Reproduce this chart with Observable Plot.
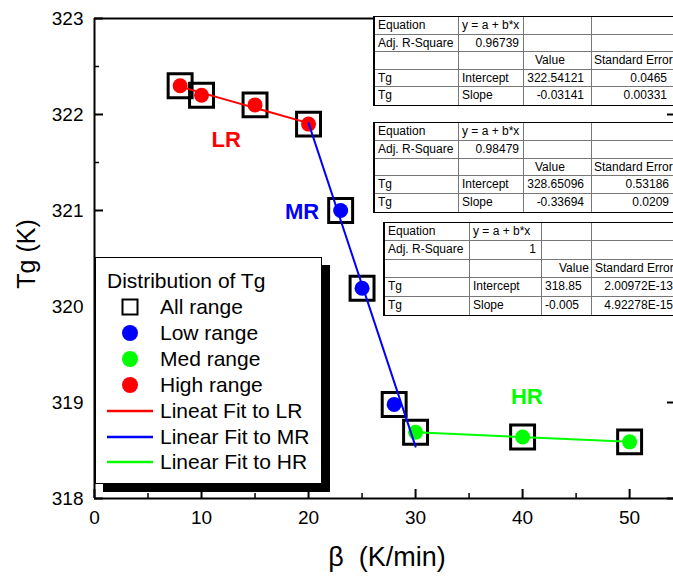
<!DOCTYPE html>
<html><head><meta charset="utf-8">
<script src="https://cdn.jsdelivr.net/npm/d3@7"></script>
<script src="https://cdn.jsdelivr.net/npm/@observablehq/plot@0.6"></script>
<style>
html,body{margin:0;padding:0;background:#fff;overflow:hidden}
#wrap{position:relative;width:673px;height:577px;overflow:hidden;font-family:Arial,"Liberation Sans",sans-serif;color:#000}
#wrap svg{display:block}
.tbl{position:absolute;display:grid;background:#fff;font-size:12px;border-top:1px solid #000;border-bottom:1px solid #000;border-left:2px solid #000;box-sizing:border-box}
.tbl div{border-right:1px solid #777;border-bottom:1px solid #777;box-sizing:border-box;white-space:nowrap;overflow:visible;padding:0 3px}
.tbl div.lastrow{border-bottom:none}
.legend{position:absolute;left:95px;top:257px;width:227px;height:227px;box-sizing:border-box;border:1px solid #000;background:#fff;box-shadow:8px 8px 0 #000;font-size:21px}
.legend .row{position:absolute;left:0;height:26px;line-height:26px;white-space:nowrap}
.legend svg{position:absolute;left:0;top:0}
.atitle{position:absolute;white-space:nowrap;line-height:1;transform:translate(-50%,-50%)}
</style></head>
<body><div id="wrap"></div>
<script>
// ---- data ----
const beta = [8, 10, 15, 20, 23, 25, 28, 30, 40, 50];
const tg = [322.30, 322.20, 322.10, 321.90, 321.00, 320.19, 318.98, 318.69, 318.64, 318.59];
const rangeOf = ["High range","High range","High range","High range","Low range","Low range","Low range","Med range","Med range","Med range"];
const fitLRbeta = [8, 20], fitLRtg = [322.29, 321.91];
const fitMRbeta = [20, 30], fitMRtg = [321.91, 318.54];
const fitHRbeta = [30, 50], fitHRtg = [318.69, 318.59];
const xTicks = [0, 10, 20, 30, 40, 50];
const xMinor = [5, 15, 25, 35, 45];
const yTicks = [318, 319, 320, 321, 322, 323];
const yMinor = [318.5, 319.5, 320.5, 321.5, 322.5];
const regionNames = ["LR", "MR", "HR"];
const regionX = [12.3, 19.4, 40.4];
const regionY = [321.73, 320.98, 319.06];
const xTitle = "\u03b2\u00a0 (K/min)";
const yTitle = "Tg (K)";
const legendTitle = "Distribution of Tg";
const legendLabels = ["All range","Low range","Med range","High range","Lineat Fit to LR","Linear Fit to MR","Linear Fit to HR"];
const tblEquation = ["y = a + b*x","y = a + b*x","y = a + b*x"];
const tblAdjR2 = ["0.96739","0.98479","1"];
const tblIntercept = ["322.54121","328.65096","318.85"];
const tblInterceptSE = ["0.0465","0.53186","2.00972E-13"];
const tblSlope = ["-0.03141","-0.33694","-0.005"];
const tblSlopeSE = ["0.00331","0.0209","4.92278E-15"];

// ---- styles ----
const colorOf = {"Low range":"#0000ff","Med range":"#00ff00","High range":"#ff0000"};
const regionColor = ["#ff0000","#0000ff","#00ff00"];
const W = 673, H = 577, mL = 94, mT = 18, mB = 79, mR = 0;
const FW = W - mL - mR, FH = H - mT - mB;
const idx = d3.range(beta.length);
const fitLR = fitLRbeta.map((b,i)=>({b, t: fitLRtg[i]}));
const fitMR = fitMRbeta.map((b,i)=>({b, t: fitMRtg[i]}));
const fitHR = fitHRbeta.map((b,i)=>({b, t: fitHRtg[i]}));

const chart = Plot.plot({
  width: W, height: H, marginLeft: mL, marginTop: mT, marginBottom: mB, marginRight: mR,
  x: {domain: [0, 54.1]},
  y: {domain: [318, 323]},
  color: {type: "identity"},
  style: {fontFamily: "Arial, 'Liberation Sans', sans-serif", color: "#000", background: "#fff"},
  marks: [
    Plot.axisX({ticks: xTicks, tickFormat: "d", tickSize: 0, tickPadding: 12, fontSize: 19, label: null}),
    Plot.axisY({ticks: yTicks, tickFormat: "d", tickSize: 0, tickPadding: 11, fontSize: 19, label: null}),
    Plot.tickX(xTicks, {x: d=>d, insetTop: FH - 9, strokeWidth: 2}),
    Plot.tickX(xMinor, {x: d=>d, insetTop: FH - 5, strokeWidth: 1.5}),
    Plot.tickY(yTicks, {y: d=>d, insetRight: FW - 9, strokeWidth: 2}),
    Plot.tickY(yMinor, {y: d=>d, insetRight: FW - 5, strokeWidth: 1.5}),
    Plot.tickY(yTicks, {y: d=>d, insetLeft: FW - 6, strokeWidth: 2}),
    Plot.ruleX([0], {strokeWidth: 2}),
    Plot.ruleY([318], {strokeWidth: 2}),
    Plot.ruleY([323], {strokeWidth: 2}),
    Plot.dot(idx, {x: i=>beta[i], y: i=>tg[i], symbol: "square", r: 13.5, stroke: "#000", strokeWidth: 3, fill: "none"}),
    Plot.dot(idx, {x: i=>beta[i], y: i=>tg[i], r: 7.5, fill: i=>colorOf[rangeOf[i]], stroke: "none"}),
    Plot.line(fitLR, {x: "b", y: "t", stroke: "#ff0000", strokeWidth: 2}),
    Plot.line(fitMR, {x: "b", y: "t", stroke: "#0000ff", strokeWidth: 2}),
    Plot.line(fitHR, {x: "b", y: "t", stroke: "#00ff00", strokeWidth: 2}),
    Plot.text(d3.range(3), {x: i=>regionX[i], y: i=>regionY[i], text: i=>regionNames[i], fill: i=>regionColor[i], fontSize: 22, fontWeight: "bold"})
  ]
});
const wrap = document.getElementById("wrap");
wrap.appendChild(chart);

// ---- axis titles ----
const yt = document.createElement("div");
yt.className = "atitle";
yt.textContent = yTitle;
yt.style.cssText += "left:26px;top:254px;font-size:25px;transform:translate(-50%,-50%) rotate(-90deg)";
wrap.appendChild(yt);
const xt = document.createElement("div");
xt.className = "atitle";
xt.textContent = xTitle;
xt.style.cssText += "left:387px;top:557px;font-size:27px";
wrap.appendChild(xt);

// ---- fit tables ----
const tblLayout = [
  {left: 373, top: 16, rowH: 17.6, cols: [84, 65, 68, 84], valuePad: 11, r2Pad: 4, valPad: 7, sePad: 8, seHeadPad: 2},
  {left: 373, top: 122, rowH: 17.8, cols: [84, 65, 68, 84], valuePad: 11, r2Pad: 4, valPad: 7, sePad: 6, seHeadPad: 2},
  {left: 383, top: 222, rowH: 18.4, cols: [85, 72, 50, 84], valuePad: 17, r2Pad: 5, valPad: 12, sePad: 2, seHeadPad: 3}
];
tblLayout.forEach((L, k) => {
  const t = document.createElement("div");
  t.className = "tbl";
  t.style.left = L.left + "px";
  t.style.top = L.top + "px";
  t.style.gridTemplateColumns = L.cols.map(c => c + "px").join(" ");
  t.style.gridAutoRows = L.rowH + "px";
  const rows = [
    [["Equation","left"],[tblEquation[k],"left"],["",""],["",""]],
    [["Adj. R-Square","left"],[tblAdjR2[k],"right",L.r2Pad],["",""],["",""]],
    [["",""],["",""],["Value","left",null,L.valuePad],["Standard Error","left",null,L.seHeadPad]],
    [["Tg","left"],["Intercept","left"],[tblIntercept[k],"right",L.valPad],[tblInterceptSE[k],"right",L.sePad]],
    [["Tg","left"],["Slope","left"],[tblSlope[k],"right",L.valPad],[tblSlopeSE[k],"right",L.sePad]]
  ];
  rows.forEach((r, ri) => r.forEach(([txt, al, pr, pl]) => {
    const c = document.createElement("div");
    c.textContent = txt;
    c.style.textAlign = al || "left";
    c.style.lineHeight = (L.rowH - 1) + "px";
    if (pr != null) c.style.paddingRight = pr + "px";
    if (pl != null) c.style.paddingLeft = pl + "px";
    if (ri === 4) c.className = "lastrow";
    t.appendChild(c);
  }));
  wrap.appendChild(t);
});

// ---- legend ----
const lg = document.createElement("div");
lg.className = "legend";
const title = document.createElement("div");
title.className = "row";
title.style.top = "10px";
title.style.left = "11px";
title.textContent = legendTitle;
lg.appendChild(title);
const symKind = ["square","circle","circle","circle","line","line","line"];
const symColor = ["#000","#0000ff","#00ff00","#ff0000","#ff0000","#0000ff","#00ff00"];
legendLabels.forEach((lab, i) => {
  const row = document.createElement("div");
  row.className = "row";
  row.style.top = (36 + i * 25.9) + "px";
  row.style.width = "225px";
  let sym = "";
  if (symKind[i] === "square") sym = `<rect x="26.5" y="5.5" width="15" height="15" fill="none" stroke="#000" stroke-width="2"/>`;
  else if (symKind[i] === "circle") sym = `<circle cx="34" cy="13" r="8" fill="${symColor[i]}"/>`;
  else sym = `<line x1="11" x2="57" y1="13" y2="13" stroke="${symColor[i]}" stroke-width="2.5"/>`;
  row.innerHTML = `<svg width="64" height="26">${sym}</svg><span style="position:absolute;left:64px;top:0">${lab}</span>`;
  lg.appendChild(row);
});
wrap.appendChild(lg);
</script></body></html>
